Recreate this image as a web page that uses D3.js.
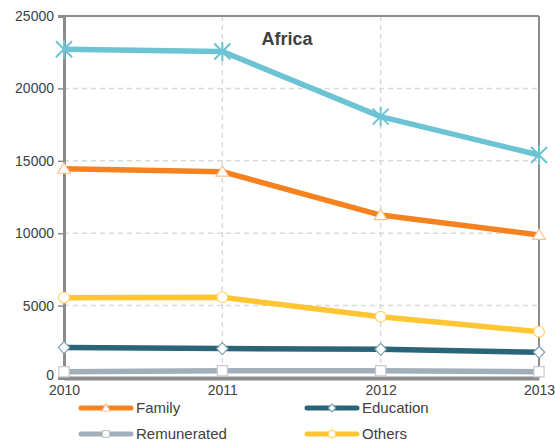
<!DOCTYPE html>
<html><head><meta charset="utf-8">
<script src="https://cdn.jsdelivr.net/npm/d3@7"></script>
<style>body{margin:0;background:#fff}svg{display:block}text{font-family:"Liberation Sans",Arial,sans-serif}</style>
</head><body><svg id="c" width="555" height="445"></svg>
<script>
const years = [2010, 2011, 2012, 2013];
const yTicks = [0, 5000, 10000, 15000, 20000, 25000];
const total = [22700, 22550, 18050, 15400];
const family = [14450, 14250, 11250, 9880];
const education = [2100, 2030, 1980, 1780];
const remunerated = [430, 500, 500, 430];
const others = [5550, 5570, 4230, 3200];
const title = "Africa";

const series = [
  {name: "Total", values: total, color: "#6cc3d3", marker: "asterisk", legend: false},
  {name: "Family", values: family, color: "#f5821f", marker: "triangle", mstroke: "#f9c08e", legend: true},
  {name: "Others", values: others, color: "#ffc533", marker: "circle", mstroke: "#ffd466", legend: true},
  {name: "Education", values: education, color: "#2a6478", marker: "diamond", mstroke: "#7fa3b3", legend: true},
  {name: "Remunerated", values: remunerated, color: "#a3aebb", marker: "square", mstroke: "#c3cad3", legend: true}
];

const svg = d3.select("#c");
const L = 64, R = 539, T = 16, B = 378;
const x = d3.scaleLinear().domain([2010, 2013]).range([L, R]);
const y = d3.scaleLinear().domain([0, 25000]).range([B, T]);

// grid
svg.append("g").selectAll("line").data(yTicks.filter(d => d > 0 && d < 25000)).join("line")
  .attr("x1", L).attr("x2", R).attr("y1", d => y(d)).attr("y2", d => y(d))
  .attr("stroke", "#d9d9d9").attr("stroke-width", 1.5).attr("stroke-dasharray", "5,4");
svg.append("g").selectAll("line").data(years.slice(1, 3)).join("line")
  .attr("x1", d => x(d)).attr("x2", d => x(d)).attr("y1", T).attr("y2", B)
  .attr("stroke", "#d9d9d9").attr("stroke-width", 1.5).attr("stroke-dasharray", "5,4");

// frame
svg.append("line").attr("x1", L).attr("x2", R).attr("y1", T).attr("y2", T).attr("stroke", "#8c8c8c").attr("stroke-width", 2);
svg.append("line").attr("x1", R).attr("x2", R).attr("y1", T).attr("y2", B).attr("stroke", "#8c8c8c").attr("stroke-width", 2);

// y axis
const yAxis = svg.append("g").attr("transform", `translate(${L},0)`)
  .call(d3.axisLeft(y).tickValues(yTicks).tickSize(6).tickFormat(d3.format("d")));
yAxis.select(".domain").attr("stroke", "#8c8c8c").attr("stroke-width", 3);
yAxis.selectAll(".tick line").attr("stroke", "#8c8c8c").attr("stroke-width", 1.5);
yAxis.selectAll(".tick text").attr("fill", "#404040").style("font-size", "14px").attr("x", -10)
  .attr("dy", d => d === 0 ? "0.1em" : "0.32em");

// x axis
const xAxis = svg.append("g").attr("transform", `translate(0,${B})`)
  .call(d3.axisBottom(x).tickValues(years).tickSize(0).tickFormat(d3.format("d")));
xAxis.select(".domain").attr("stroke", "#8c8c8c").attr("stroke-width", 4);
xAxis.selectAll(".tick text").attr("fill", "#404040").style("font-size", "14px").attr("dy", "0.95em").attr("y", 4);

// lines
const line = d3.line().x((d, i) => x(years[i])).y(d => y(d));
function marker(g, type, color, stroke, s) {
  if (type === "asterisk") {
    g.append("path").attr("d", `M${-s},${-s}L${s},${s}M${-s},${s}L${s},${-s}M0,${-s*1.2}L0,${s*1.2}`)
      .attr("stroke", color).attr("stroke-width", 2).attr("fill", "none");
    return;
  }
  let d;
  if (type === "triangle") {
    d = `M0,${-s}L${s * 1.05},${s * 0.75}L${-s * 1.05},${s * 0.75}Z`;
  } else if (type === "diamond") {
    d = `M0,${-s}L${s * 0.95},0L0,${s}L${-s * 0.95},0Z`;
  } else if (type === "square") {
    d = `M${-s * 0.85},${-s * 0.85}h${s * 1.7}v${s * 1.7}h${-s * 1.7}Z`;
  } else {
    d = d3.arc()({innerRadius: 0, outerRadius: s * 0.9, startAngle: 0, endAngle: 2 * Math.PI});
  }
  g.append("path").attr("d", d).attr("fill", "#fff").attr("stroke", stroke).attr("stroke-width", 1.2);
}
series.forEach(s => {
  svg.append("path").datum(s.values).attr("d", line).attr("fill", "none")
    .attr("stroke", s.color).attr("stroke-width", 5.5).attr("stroke-linejoin", "round");
  s.values.forEach((v, i) => {
    const g = svg.append("g").attr("transform", `translate(${x(years[i])},${y(v)})`);
    marker(g, s.marker, s.color, s.mstroke, s.marker === "asterisk" ? 8 : 6);
  });
});

// title
svg.append("text").attr("x", 287).attr("y", 45).attr("text-anchor", "middle")
  .style("font-size", "18px").style("font-weight", "bold").attr("fill", "#404040").text(title);

// legend
const legendItems = [
  {s: series[1], lx: 81, ly: 408},
  {s: series[3], lx: 307, ly: 408},
  {s: series[4], lx: 81, ly: 434},
  {s: series[2], lx: 307, ly: 434}
];
legendItems.forEach(({s, lx, ly}) => {
  const g = svg.append("g");
  g.append("line").attr("x1", lx).attr("x2", lx + 50).attr("y1", ly).attr("y2", ly)
    .attr("stroke", s.color).attr("stroke-width", 5).attr("stroke-linecap", "round");
  const mg = g.append("g").attr("transform", `translate(${lx + 25},${ly})`);
  marker(mg, s.marker, s.color, s.mstroke, 4);
  g.append("text").attr("x", lx + 55).attr("y", ly + 5).style("font-size", "15px").attr("fill", "#404040").text(s.name);
});
</script></body></html>
